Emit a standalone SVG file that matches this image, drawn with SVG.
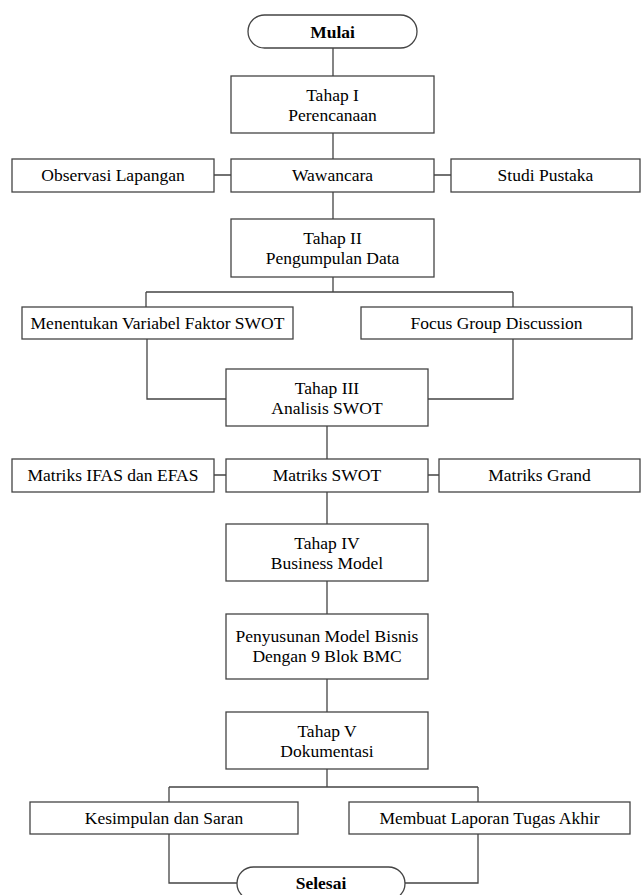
<svg xmlns="http://www.w3.org/2000/svg" width="643" height="895" viewBox="0 0 643 895">
<style>
.b{fill:#fff;stroke:#444;stroke-width:1.3}
.c{fill:none;stroke:#444;stroke-width:1.3}
text{font-size:17.5px;fill:#000;text-anchor:middle}
.bold{font-weight:bold}
</style>
<rect width="643" height="895" fill="#fff"/>
<g id="connectors">
<path class="c" d="M333 48V76M333 133V159M214 175H231M434 175H451M333 192V219M333 277V292M146 292H513M146 292V307M513 292V307M147 339V399H226M513 339V399H428M327 426V459M214 475H226M428 475H439M327 492V524M327 581V614M327 679V712M327 769V787M169 787H478M169 787V802M478 787V802M169 834V883H237M478 834V883H405"/>
</g>
<g font-family="Liberation Serif, 'Times New Roman', 'DejaVu Serif', serif">
<g id="mulai"><rect class="b" x="248" y="15" width="169" height="33" rx="16.5"/><text class="bold" x="332.5" y="37.5">Mulai</text></g>
<g id="tahap1"><rect class="b" x="231" y="76" width="203" height="57"/><text x="332.5" y="101">Tahap I</text><text x="332.5" y="121">Perencanaan</text></g>
<g id="observasi"><rect class="b" x="12" y="159" width="202" height="33"/><text x="113" y="181">Observasi Lapangan</text></g>
<g id="wawancara"><rect class="b" x="231" y="159" width="203" height="33"/><text x="332.5" y="181">Wawancara</text></g>
<g id="studi"><rect class="b" x="451" y="159" width="189" height="33"/><text x="545.5" y="181">Studi Pustaka</text></g>
<g id="tahap2"><rect class="b" x="231" y="219" width="203" height="58"/><text x="332.5" y="244">Tahap II</text><text x="332.5" y="264">Pengumpulan Data</text></g>
<g id="menentukan"><rect class="b" x="22" y="307" width="271" height="32"/><text x="157.5" y="329">Menentukan Variabel Faktor SWOT</text></g>
<g id="fgd"><rect class="b" x="361" y="307" width="271" height="32"/><text x="496.5" y="329">Focus Group Discussion</text></g>
<g id="tahap3"><rect class="b" x="226" y="369" width="202" height="57"/><text x="327" y="394">Tahap III</text><text x="327" y="414">Analisis SWOT</text></g>
<g id="ifas"><rect class="b" x="12" y="459" width="202" height="33"/><text x="113" y="481">Matriks IFAS dan EFAS</text></g>
<g id="mswot"><rect class="b" x="226" y="459" width="202" height="33"/><text x="327" y="481">Matriks SWOT</text></g>
<g id="grand"><rect class="b" x="439" y="459" width="201" height="33"/><text x="539.5" y="481">Matriks Grand</text></g>
<g id="tahap4"><rect class="b" x="226" y="524" width="202" height="57"/><text x="327" y="549">Tahap IV</text><text x="327" y="569">Business Model</text></g>
<g id="penyusunan"><rect class="b" x="226" y="614" width="202" height="65"/><text x="327" y="642">Penyusunan Model Bisnis</text><text x="327" y="662">Dengan 9 Blok BMC</text></g>
<g id="tahap5"><rect class="b" x="226" y="712" width="202" height="57"/><text x="327" y="737">Tahap V</text><text x="327" y="757">Dokumentasi</text></g>
<g id="kesimpulan"><rect class="b" x="30" y="802" width="268" height="32"/><text x="164" y="824">Kesimpulan dan Saran</text></g>
<g id="laporan"><rect class="b" x="349" y="802" width="281" height="32"/><text x="489.5" y="824">Membuat Laporan Tugas Akhir</text></g>
<g id="selesai"><rect class="b" x="237" y="867" width="168" height="33" rx="16.5"/><text class="bold" x="321" y="889">Selesai</text></g>
</g>
</svg>
